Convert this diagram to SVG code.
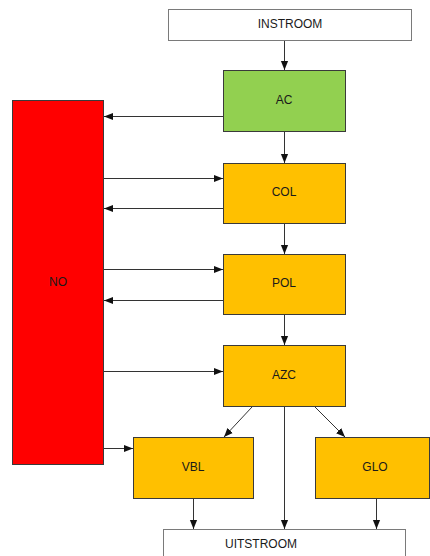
<svg xmlns="http://www.w3.org/2000/svg" width="430" height="556" viewBox="0 0 430 556">
<style>
.box{stroke:#3a3a3a;stroke-width:1}
.white{fill:#ffffff;stroke:#7a7a7a}
.green{fill:#92D050}
.orange{fill:#FFC000}
.red{fill:#FF0000}
text{font-family:"Liberation Sans",Arial,sans-serif;font-size:12px;fill:#1a1a1a;text-anchor:middle;dominant-baseline:central}
.c line{stroke:#333;stroke-width:1;marker-end:url(#ah)}
</style>
<defs>
<marker id="ah" viewBox="0 0 10 10" refX="10" refY="5" markerWidth="9" markerHeight="9" markerUnits="userSpaceOnUse" orient="auto">
<path d="M0,1 L10,5 L0,9 z" fill="#111"/>
</marker>
</defs>
<rect width="430" height="556" fill="#ffffff"/>
<g id="instroom"><rect class="box white" x="168.5" y="9.5" width="243" height="31"/><text x="290" y="24">INSTROOM</text></g>
<g id="ac"><rect class="box green" x="223.5" y="70.5" width="122" height="61"/><text x="284" y="100">AC</text></g>
<g id="no"><rect class="box red" x="12.5" y="100.5" width="91" height="364"/><text x="58" y="282">NO</text></g>
<g id="col"><rect class="box orange" x="223.5" y="163.5" width="122" height="60"/><text x="284" y="192">COL</text></g>
<g id="pol"><rect class="box orange" x="223.5" y="254.5" width="122" height="60"/><text x="284" y="283">POL</text></g>
<g id="azc"><rect class="box orange" x="223.5" y="345.5" width="122" height="61"/><text x="284" y="375">AZC</text></g>
<g id="vbl"><rect class="box orange" x="133.5" y="437.5" width="120" height="61"/><text x="193" y="467">VBL</text></g>
<g id="glo"><rect class="box orange" x="315.5" y="437.5" width="114" height="61"/><text x="375" y="467">GLO</text></g>
<g id="uitstroom"><rect class="box white" x="163.5" y="529.5" width="242" height="40"/><text x="261" y="544">UITSTROOM</text></g>
<g class="c" id="connectors">
<line x1="284.5" y1="41" x2="284.5" y2="70"/>
<line x1="223" y1="116.5" x2="104" y2="116.5"/>
<line x1="284.5" y1="132" x2="284.5" y2="163"/>
<line x1="104" y1="178.5" x2="223" y2="178.5"/>
<line x1="223" y1="208.5" x2="104" y2="208.5"/>
<line x1="284.5" y1="224" x2="284.5" y2="254"/>
<line x1="104" y1="269.5" x2="223" y2="269.5"/>
<line x1="223" y1="300.5" x2="104" y2="300.5"/>
<line x1="284.5" y1="315" x2="284.5" y2="345"/>
<line x1="104" y1="371.5" x2="223" y2="371.5"/>
<line x1="104" y1="448.5" x2="133" y2="448.5"/>
<line x1="252" y1="407" x2="224" y2="437"/>
<line x1="315" y1="407" x2="345" y2="437"/>
<line x1="284.5" y1="407" x2="284.5" y2="529"/>
<line x1="193.5" y1="499" x2="193.5" y2="529"/>
<line x1="376.5" y1="499" x2="376.5" y2="529"/>
</g>
</svg>
